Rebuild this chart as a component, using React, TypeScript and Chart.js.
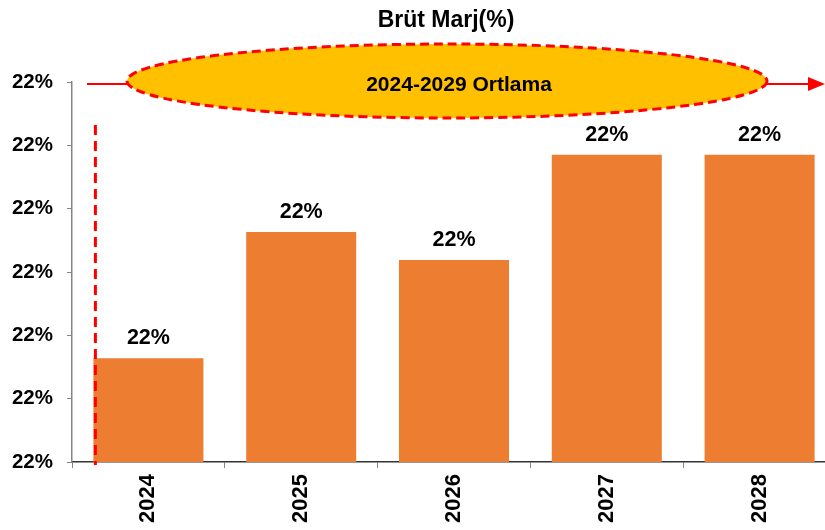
import React, { useEffect, useRef } from "react";
import { Chart, registerables } from "chart.js";

Chart.register(...registerables);

const categories = ["2024", "2025", "2026", "2027", "2028"];
const marginValues = [21.864, 22.063, 22.019, 22.185, 22.185];
const axisMin = 21.7;
const axisMax = 22.3;
const axisStep = 0.1;
const chartTitle = "Brüt Marj(%)";
const averageLabel = "2024-2029 Ortlama";

const FONT = "'Liberation Sans', Arial, sans-serif";
const fmt = (v: number) => `${Math.round(v)}%`;

const overlayPlugin = {
  id: "overlay",
  afterDatasetsDraw(chart: any) {
    const { ctx, chartArea, scales } = chart;
    const meta = chart.getDatasetMeta(0);
    ctx.save();

    // data labels
    ctx.fillStyle = "#000";
    ctx.font = `bold 21.5px ${FONT}`;
    ctx.textAlign = "center";
    ctx.textBaseline = "alphabetic";
    meta.data.forEach((bar: any, i: number) => {
      ctx.fillText(fmt(marginValues[i]), bar.x, bar.y - 14);
    });

    // vertical dashed red line at start of first bar
    const first = meta.data[0];
    const vx = first.x - first.width / 2 + 2;
    ctx.strokeStyle = "#FF0000";
    ctx.lineWidth = 3;
    ctx.setLineDash([10, 6]);
    ctx.beginPath();
    ctx.moveTo(vx, chartArea.top + 43);
    ctx.lineTo(vx, chartArea.bottom + 3);
    ctx.stroke();

    // arrow line
    const ay = scales.y.getPixelForValue(axisMax) + 2;
    ctx.setLineDash([]);
    ctx.lineWidth = 2;
    ctx.beginPath();
    ctx.moveTo(chartArea.left + 15, ay);
    ctx.lineTo(chartArea.left + 738, ay);
    ctx.stroke();
    ctx.fillStyle = "#FF0000";
    ctx.beginPath();
    ctx.moveTo(chartArea.left + 753, ay);
    ctx.lineTo(chartArea.left + 736, ay - 7);
    ctx.lineTo(chartArea.left + 736, ay + 7);
    ctx.closePath();
    ctx.fill();

    // ellipse
    const ex = chartArea.left + 375;
    const ey = ay - 3;
    ctx.beginPath();
    ctx.ellipse(ex, ey, 320, 37, 0, 0, Math.PI * 2);
    ctx.fillStyle = "#FFC000";
    ctx.fill();
    ctx.setLineDash([9, 5]);
    ctx.lineWidth = 3;
    ctx.strokeStyle = "#FF0000";
    ctx.stroke();
    ctx.setLineDash([]);

    ctx.fillStyle = "#000";
    ctx.font = `bold 21px ${FONT}`;
    ctx.textAlign = "center";
    ctx.textBaseline = "middle";
    ctx.fillText(averageLabel, ex + 12, ey + 4);

    // title
    ctx.font = `bold 23px ${FONT}`;
    ctx.fillText(chartTitle, chartArea.left + 374, 21);

    ctx.restore();
  },
};

export default function App() {
  const canvasRef = useRef<HTMLCanvasElement>(null);

  useEffect(() => {
    if (!canvasRef.current) return;
    const chart = new Chart(canvasRef.current, {
      type: "bar",
      data: {
        labels: categories,
        datasets: [
          {
            data: marginValues,
            backgroundColor: "#ED7D31",
            borderWidth: 0,
            barPercentage: 0.72,
            categoryPercentage: 1,
          },
        ],
      },
      options: {
        animation: false,
        responsive: false,
        maintainAspectRatio: false,
        layout: { padding: { top: 82, right: 4, left: 0, bottom: 0 } },
        plugins: {
          legend: { display: false },
          title: { display: false },
          tooltip: { enabled: false },
        },
        scales: {
          x: {
            grid: {
              drawOnChartArea: false,
              drawTicks: true,
              tickLength: 6,
              color: "#868686",
              offset: true,
            },
            border: { color: "#333333", width: 1.5 },
            ticks: {
              color: "#000",
              font: { family: FONT, size: 22, weight: "bold" },
              maxRotation: 90,
              minRotation: 90,
              padding: 6,
            },
            afterFit(scale: any) {
              scale.height = 68;
            },
          },
          y: {
            min: axisMin,
            max: axisMax,
            grid: {
              drawOnChartArea: false,
              drawTicks: true,
              tickLength: 5,
              color: "#868686",
            },
            border: { color: "#868686", width: 1.5 },
            ticks: {
              stepSize: axisStep,
              color: "#000",
              font: { family: FONT, size: 20.5, weight: "bold" },
              padding: 14,
              callback: (v: any) => fmt(Number(v)),
            },
            afterFit(scale: any) {
              scale.width = 72;
            },
          },
        },
      },
      plugins: [overlayPlugin],
    });
    return () => chart.destroy();
  }, []);

  return (
    <div
      style={{
        position: "fixed",
        left: 0,
        top: 0,
        width: 825,
        height: 530,
        overflow: "hidden",
        background: "#fff",
      }}
    >
      <canvas ref={canvasRef} width={840} height={530} style={{ display: "block" }} />
    </div>
  );
}
